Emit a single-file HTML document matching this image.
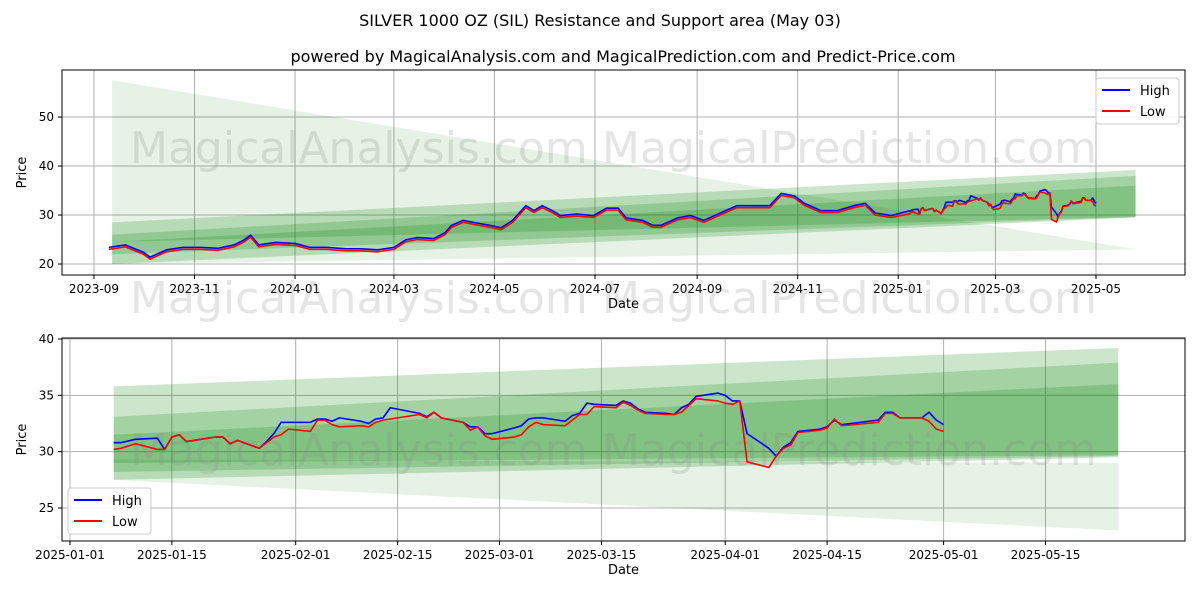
<!DOCTYPE html>
<html><head><meta charset="utf-8"><style>
body{margin:0;background:#fff;font-family:"Liberation Sans","DejaVu Sans",sans-serif}
svg text{font-family:"DejaVu Sans","Liberation Sans",sans-serif}
</style></head><body>
<svg id="s" width="1200" height="600" xmlns="http://www.w3.org/2000/svg">
<text x="600" y="26" text-anchor="middle" font-size="16" fill="#000">SILVER 1000 OZ (SIL) Resistance and Support area (May 03)</text>
<text x="623" y="62" text-anchor="middle" font-size="16" fill="#000">powered by MagicalAnalysis.com and MagicalPrediction.com and Predict-Price.com</text>
</svg>
<script>
// ---- data ----
const topDates=["2023-09-10","2023-09-20","2023-10-01","2023-10-05","2023-10-15","2023-10-25","2023-11-05","2023-11-15","2023-11-25","2023-12-01","2023-12-05","2023-12-10","2023-12-20","2024-01-01","2024-01-10","2024-01-20","2024-02-01","2024-02-10","2024-02-20","2024-03-01","2024-03-08","2024-03-15","2024-03-25","2024-04-01","2024-04-05","2024-04-12","2024-04-20","2024-04-28","2024-05-05","2024-05-12","2024-05-20","2024-05-25","2024-05-30","2024-06-05","2024-06-10","2024-06-20","2024-06-30","2024-07-08","2024-07-15","2024-07-20","2024-07-30","2024-08-05","2024-08-10","2024-08-20","2024-08-28","2024-09-05","2024-09-15","2024-09-25","2024-10-05","2024-10-15","2024-10-22","2024-10-30","2024-11-05","2024-11-15","2024-11-25","2024-12-05","2024-12-12","2024-12-18","2024-12-28"];
const topLow=[23,23.5,22,21,22.5,23,23,22.8,23.5,24.5,25.5,23.5,24,23.8,23,23,22.7,22.7,22.5,23,24.5,25,24.8,26,27.5,28.5,28,27.5,27,28.5,31.5,30.5,31.5,30.5,29.5,29.8,29.5,31,31,29,28.5,27.5,27.5,29,29.5,28.5,30,31.5,31.5,31.5,34,33.5,32,30.5,30.5,31.5,32,30,29.5];
const topHigh=[23.4,23.9,22.4,21.4,22.9,23.4,23.4,23.2,23.9,24.9,25.9,23.9,24.4,24.2,23.4,23.4,23.1,23.1,22.9,23.4,24.9,25.4,25.2,26.4,27.9,28.9,28.4,27.9,27.4,28.9,31.9,30.9,31.9,30.9,29.9,30.2,29.9,31.4,31.4,29.4,28.9,27.9,27.9,29.4,29.9,28.9,30.4,31.9,31.9,31.9,34.4,33.9,32.4,30.9,30.9,31.9,32.4,30.4,29.9];
const recDates=["2025-01-07","2025-01-08","2025-01-10","2025-01-13","2025-01-14","2025-01-15","2025-01-16","2025-01-17","2025-01-21","2025-01-22","2025-01-23","2025-01-24","2025-01-27","2025-01-28","2025-01-29","2025-01-30","2025-01-31","2025-02-03","2025-02-04","2025-02-05","2025-02-06","2025-02-07","2025-02-10","2025-02-11","2025-02-12","2025-02-13","2025-02-14","2025-02-18","2025-02-19","2025-02-20","2025-02-21","2025-02-24","2025-02-25","2025-02-26","2025-02-27","2025-02-28","2025-03-03","2025-03-04","2025-03-05","2025-03-06","2025-03-07","2025-03-10","2025-03-11","2025-03-12","2025-03-13","2025-03-14","2025-03-17","2025-03-18","2025-03-19","2025-03-20","2025-03-21","2025-03-24","2025-03-25","2025-03-26","2025-03-27","2025-03-28","2025-03-31","2025-04-01","2025-04-02","2025-04-03","2025-04-04","2025-04-07","2025-04-08","2025-04-09","2025-04-10","2025-04-11","2025-04-14","2025-04-15","2025-04-16","2025-04-17","2025-04-22","2025-04-23","2025-04-24","2025-04-25","2025-04-28","2025-04-29","2025-04-30","2025-05-01"];
const recHigh=[30.8,30.8,31.1,31.2,30.2,31.3,31.5,30.9,31.3,31.3,30.7,31.0,30.3,30.9,31.6,32.6,32.6,32.6,32.9,32.9,32.7,33.0,32.7,32.5,32.9,33.0,33.9,33.4,33.1,33.5,33.0,32.6,32.2,32.2,31.6,31.6,32.1,32.3,32.9,33.0,33.0,32.7,33.2,33.4,34.3,34.2,34.1,34.5,34.3,33.8,33.5,33.4,33.3,33.9,34.2,34.9,35.2,35.0,34.5,34.5,31.6,30.3,29.6,30.4,30.8,31.8,32.0,32.2,32.8,32.4,32.8,33.5,33.5,33.0,33.0,33.5,32.8,32.4];
const recLow=[30.2,30.3,30.7,30.2,30.2,31.3,31.5,30.9,31.3,31.3,30.7,31.0,30.3,30.8,31.3,31.5,32.0,31.8,32.8,32.8,32.4,32.2,32.3,32.2,32.6,32.8,32.9,33.3,33.0,33.5,33.0,32.6,31.9,32.2,31.4,31.1,31.3,31.5,32.2,32.6,32.4,32.3,32.8,33.3,33.3,34.0,33.9,34.4,34.1,33.7,33.4,33.3,33.3,33.5,34.1,34.7,34.5,34.3,34.2,34.5,29.1,28.6,29.6,30.3,30.6,31.7,31.9,32.1,32.9,32.3,32.6,33.4,33.4,33.0,33.0,32.7,32.0,31.8];
// bands: [upperStart, upperEnd, lowerStart, lowerEnd, alpha]
const topBands=[[57.5,23,20,23,0.1],[28.5,39.2,20,29.5,0.2],[26,38,22,29.6,0.2],[24.5,36,24.5,29.6,0.2]];
const botBands=[[29.3,29.0,27.5,23,0.1],[35.8,39.2,27.5,29.5,0.2],[33.1,37.9,28.2,29.6,0.2],[31.5,36.0,29.0,29.7,0.2]];
const topYTicks=[20,30,40,50];
const botYTicks=[25,30,35,40];
const topXTicks=["2023-09","2023-11","2024-01","2024-03","2024-05","2024-07","2024-09","2024-11","2025-01","2025-03","2025-05"];
const botXTicks=["2025-01-01","2025-01-15","2025-02-01","2025-02-15","2025-03-01","2025-03-15","2025-04-01","2025-04-15","2025-05-01","2025-05-15"];

const NS="http://www.w3.org/2000/svg",svg=document.getElementById('s');
function mk(t,a,p){const e=document.createElementNS(NS,t);for(const k in a)e.setAttribute(k,a[k]);(p||svg).appendChild(e);return e;}
const D=s=>{const p=s.split('-');return Date.UTC(+p[0],+p[1]-1,p[2]?+p[2]:1)/864e5;};

function panel(cfg){
  const {x0,x1,y0,y1,d0,d1,v0,v1,name}=cfg;
  const X=d=>x0+(D(d)-d0)/(d1-d0)*(x1-x0);
  const Y=v=>y1-(v-v0)/(v1-v0)*(y1-y0);
  const g=mk('g',{});
  
  
  const cp='clip-'+name;
  const defs=mk('defs',{},g);const c=mk('clipPath',{id:cp},defs);mk('rect',{x:x0,y:y0,width:x1-x0,height:y1-y0},c);
  cfg.xt.forEach(t=>{const x=X(t);
    const l=mk('line',{x1:x,x2:x,y1:y0,y2:y1,stroke:'#b0b0b0','stroke-width':1},g);
    
    mk('line',{x1:x,x2:x,y1:y1,y2:y1+4,stroke:'#000'},g);
    const tx=mk('text',{x:x,y:y1+18,'text-anchor':'middle','font-size':12},g);tx.textContent=t;
    });
  cfg.yt.forEach(t=>{const y=Y(t);
    const l=mk('line',{x1:x0,x2:x1,y1:y,y2:y,stroke:'#b0b0b0','stroke-width':1},g);
    
    mk('line',{x1:x0-4,x2:x0,y1:y,y2:y,stroke:'#000'},g);
    const tx=mk('text',{x:x0-8,y:y+4,'text-anchor':'end','font-size':12},g);tx.textContent=t;
    });
  const bg=mk('g',{'clip-path':`url(#${cp})`},g);
  cfg.bands.forEach(b=>{
    const xs=X(cfg.bs),xe=X(cfg.be);
    const p=mk('polygon',{points:`${xs},${Y(b[0])} ${xe},${Y(b[1])} ${xe},${Y(b[3])} ${xs},${Y(b[2])}`,fill:'green','fill-opacity':b[4]},bg);
    });
  cfg.wm.forEach(w=>{const t=mk('text',{x:w[0],y:w[1],'font-size':44,fill:'#888','fill-opacity':0.22},g);t.textContent=w[2];
    });
  [[cfg.high,'#0000ff','high-line'],[cfg.low,'#ff0000','low-line']].forEach(s=>{
    const pts=cfg.dates.map((d,i)=>X(d)+','+Y(s[0][i])).join(' ');
    const pl=mk('polyline',{points:pts,fill:'none',stroke:s[1],'stroke-width':1.6,'stroke-linejoin':'round'},g);
    });
  const fr=mk('rect',{x:x0,y:y0,width:x1-x0,height:y1-y0,fill:'none',stroke:'#000','stroke-width':1},g);
  
  const xl=mk('text',{x:(x0+x1)/2,y:y1+33,'text-anchor':'middle','font-size':13},g);xl.textContent='Date';
  
  const yl=mk('text',{x:0,y:0,'text-anchor':'middle','font-size':13,transform:`translate(26,${(y0+y1)/2}) rotate(-90)`},g);yl.textContent='Price';
  
  const [lx,ly]=cfg.leg;
  const lg=mk('g',{},g);
  
  mk('rect',{x:lx,y:ly,width:83,height:46,rx:3,fill:'#fff','fill-opacity':0.85,stroke:'#ccc'},lg);
  [['High','#0000ff',0],['Low','#ff0000',1]].forEach(e=>{const yy=ly+12+e[2]*21;
    const ln=mk('line',{x1:lx+6,x2:lx+34,y1:yy,y2:yy,stroke:e[1],'stroke-width':2},lg);
    
    const t=mk('text',{x:lx+44,y:yy+5,'font-size':13},lg);t.textContent=e[0];
    });
}
const allDates=topDates.concat(recDates),allHigh=topHigh.concat(recHigh),allLow=topLow.concat(recLow);
const td0=D('2023-09-01')-32/1.648;
panel({name:'top-panel',x0:62,x1:1185,y0:70,y1:275,d0:td0,d1:td0+1123/1.648,v0:17.76,v1:59.6,
  xt:topXTicks,yt:topYTicks,bands:topBands,bs:'2023-09-12',be:'2025-05-25',dates:allDates,high:allHigh,low:allLow,leg:[1096,78],
  wm:[[130,163,'MagicalAnalysis.com'],[602,163,'MagicalPrediction.com'],[130,313,'MagicalAnalysis.com'],[602,313,'MagicalPrediction.com']]});
const bd0=D('2025-01-01')-8/7.28;
panel({name:'bottom-panel',x0:62,x1:1185,y0:338,y1:541,d0:bd0,d1:bd0+1123/7.28,v0:22.07,v1:40.09,
  xt:botXTicks,yt:botYTicks,bands:botBands,bs:'2025-01-07',be:'2025-05-25',dates:recDates,high:recHigh,low:recLow,leg:[68,488],
  wm:[[130,465,'MagicalAnalysis.com'],[602,465,'MagicalPrediction.com']]});
</script>
</body></html>
